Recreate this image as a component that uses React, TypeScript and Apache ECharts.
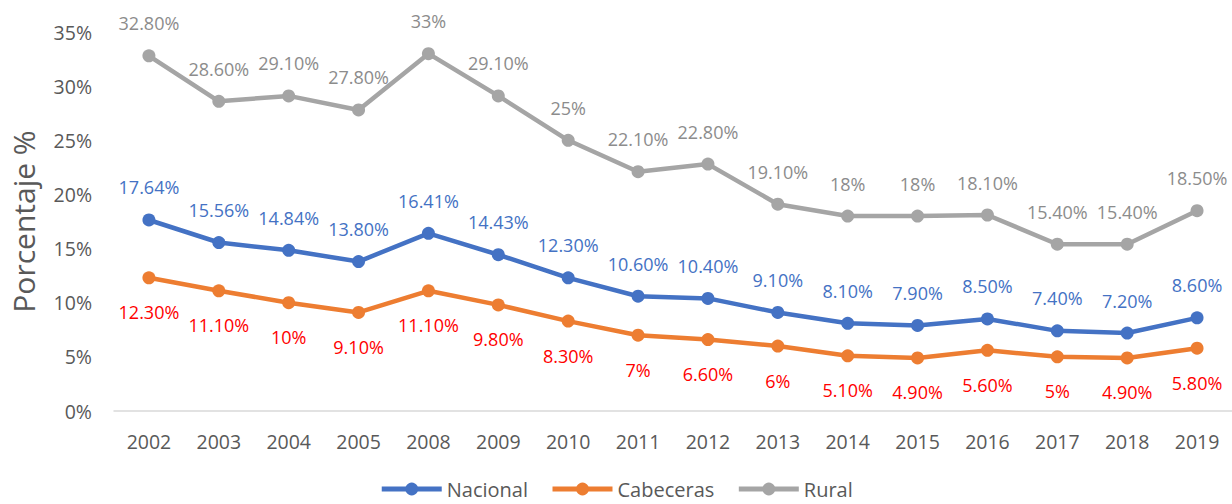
import React, { useEffect, useRef } from "react";
import * as echarts from "echarts";

const years = ["2002","2003","2004","2005","2008","2009","2010","2011","2012","2013","2014","2015","2016","2017","2018","2019"];
const nacional = [17.64,15.56,14.84,13.8,16.41,14.43,12.3,10.6,10.4,9.1,8.1,7.9,8.5,7.4,7.2,8.6];
const cabeceras = [12.3,11.1,10,9.1,11.1,9.8,8.3,7,6.6,6,5.1,4.9,5.6,5,4.9,5.8];
const rural = [32.8,28.6,29.1,27.8,33,29.1,25,22.1,22.8,19.1,18,18,18.1,15.4,15.4,18.5];

const FONT = "'Open Sans', 'Noto Sans', sans-serif";
const fmt = (v: number) => (Number.isInteger(v) ? v + "%" : v.toFixed(2) + "%");

export default function App() {
  const ref = useRef<HTMLDivElement>(null);
  useEffect(() => {
    document.body.style.margin = "0";
    const chart = echarts.init(ref.current!, null, { renderer: "svg" });
    const mk = (name: string, data: number[], color: string, labelColor: string, pos: "top" | "bottom", dist: number) => ({
      name,
      type: "line",
      data,
      symbol: "circle",
      symbolSize: 13,
      lineStyle: { width: 4.5, color },
      itemStyle: { color },
      label: {
        show: true,
        position: pos,
        distance: dist,
        color: labelColor,
        fontSize: 18,
        fontFamily: FONT,
        formatter: (p: any) => fmt(p.value),
      },
    });
    chart.setOption({
      animation: false,
      textStyle: { fontFamily: FONT },
      grid: { left: 114, right: 0, top: 32, bottom: 93 },
      legend: {
        bottom: 0,
        left: "center",
        itemWidth: 60,
        itemHeight: 16,
        itemGap: 22,
        lineStyle: { width: 5 },
        textStyle: { fontSize: 20, color: "#595959", fontFamily: FONT },
        data: ["Nacional", "Cabeceras", "Rural"],
      },
      xAxis: {
        type: "category",
        data: years,
        axisLine: { lineStyle: { color: "#D9D9D9", width: 1.5 } },
        axisTick: { show: false },
        axisLabel: { fontSize: 19.5, color: "#595959", margin: 20, fontFamily: FONT },
      },
      yAxis: {
        type: "value",
        min: 0,
        max: 35,
        interval: 5,
        name: "Porcentaje %",
        nameLocation: "middle",
        nameGap: 76,
        nameTextStyle: { fontSize: 30, color: "#595959", fontFamily: FONT },
        splitLine: { show: false },
        axisLine: { show: false },
        axisTick: { show: false },
        axisLabel: { fontSize: 19.5, color: "#595959", margin: 22, formatter: (v: number) => v + "%", fontFamily: FONT },
      },
      series: [
        mk("Nacional", nacional, "#4472C4", "#4472C4", "top", 17),
        mk("Cabeceras", cabeceras, "#ED7D31", "#FF0000", "bottom", 19),
        mk("Rural", rural, "#A5A5A5", "#8C8C8C", "top", 17),
      ],
    });
    return () => chart.dispose();
  }, []);
  return <div ref={ref} style={{ width: 1232, height: 504 }} />;
}
